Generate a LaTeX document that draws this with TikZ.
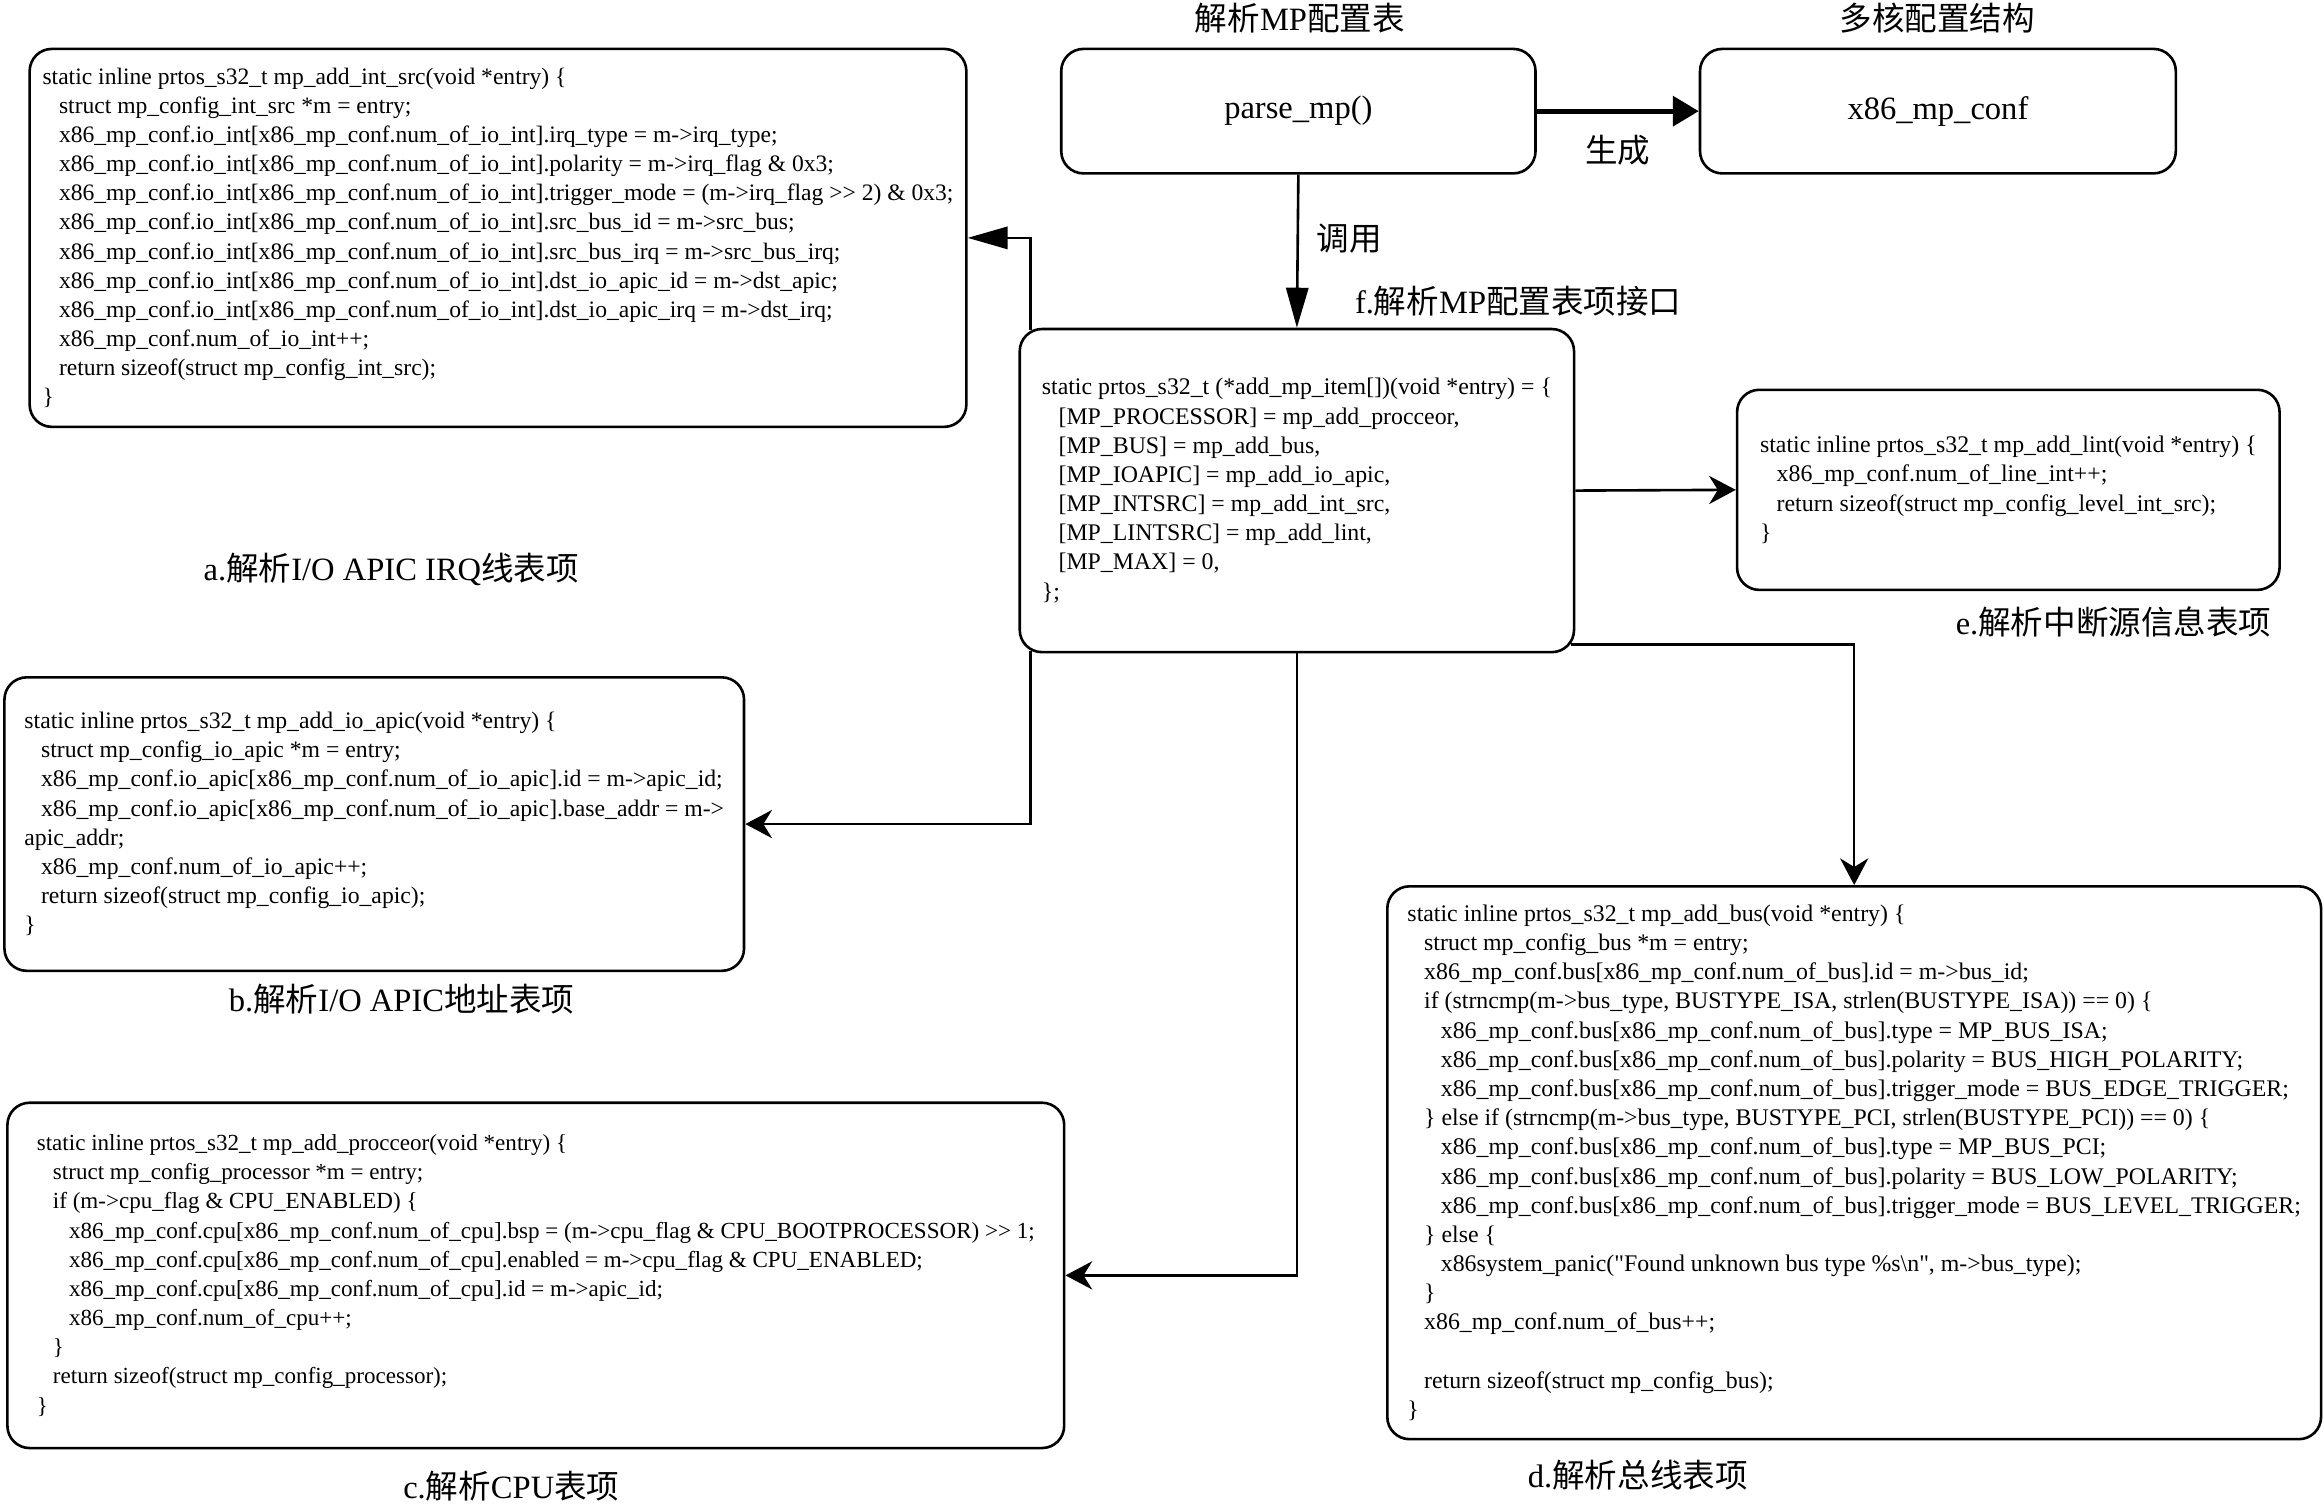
\documentclass[tikz,border=0pt]{standalone}
\usepackage{fontspec}
\setmainfont{Liberation Serif}
\newfontfamily\cjk{Noto Sans CJK SC}
\newfontfamily\codefont[Ligatures=TeXOff]{Liberation Serif}
\usetikzlibrary{arrows.meta}
\tikzset{>={Stealth[length=0.36cm,width=0.38cm]}}
\newcommand{\ind}{\hspace*{0.7em}}
\begin{document}
\catcode`\_=12
\begin{tikzpicture}[
    box/.style={draw, rounded corners=0.3cm, line width=1pt},
    code/.style={box, align=left, font=\codefont\fontsize{9.15}{11.2}\selectfont},
    lbl/.style={font=\fontsize{12.5}{14}\selectfont},
    link/.style={->, line width=1pt},
    longtip/.style={-{Triangle[length=0.54cm,width=0.3cm]}}]
    \useasboundingbox (0,0) rectangle (31.36,-20.3);
    % top row
    \node[box, lbl, minimum width=6.4cm, minimum height=1.68cm] (parse) at (17.52,-1.5) {parse_mp()};
    \node[box, lbl, minimum width=6.42cm, minimum height=1.68cm] (conf) at (26.15,-1.5) {x86_mp_conf};
    \node[lbl] (parsetitle) at (17.54,-0.24) {{\cjk 解析}MP{\cjk 配置表}};
    \node[lbl] (conftitle) at (26.14,-0.24) {{\cjk 多核配置结构}};
    % f
    \node[code, minimum width=7.48cm, minimum height=4.36cm] (f) at (17.5,-6.62) {static prtos_s32_t (*add_mp_item[])(void *entry) = \{\\
\ind[MP_PROCESSOR] = mp_add_procceor,\\
\ind[MP_BUS] = mp_add_bus,\\
\ind[MP_IOAPIC] = mp_add_io_apic,\\
\ind[MP_INTSRC] = mp_add_int_src,\\
\ind[MP_LINTSRC] = mp_add_lint,\\
\ind[MP_MAX] = 0,\\
\};};
    \node[lbl, anchor=west] (flbl) at (18.16,-4.06) {f.{\cjk 解析}MP{\cjk 配置表项接口}};
    % a
    \node[code, font=\codefont\fontsize{9.05}{11.2}\selectfont, minimum width=12.64cm, minimum height=5.1cm] (a) at (6.72,-3.21) {static inline prtos_s32_t mp_add_int_src(void *entry) \{\\
\ind struct mp_config_int_src *m = entry;\\
\ind x86_mp_conf.io_int[x86_mp_conf.num_of_io_int].irq_type = m->irq_type;\\
\ind x86_mp_conf.io_int[x86_mp_conf.num_of_io_int].polarity = m->irq_flag \& 0x3;\\
\ind x86_mp_conf.io_int[x86_mp_conf.num_of_io_int].trigger_mode = (m->irq_flag >> 2) \& 0x3;\\
\ind x86_mp_conf.io_int[x86_mp_conf.num_of_io_int].src_bus_id = m->src_bus;\\
\ind x86_mp_conf.io_int[x86_mp_conf.num_of_io_int].src_bus_irq = m->src_bus_irq;\\
\ind x86_mp_conf.io_int[x86_mp_conf.num_of_io_int].dst_io_apic_id = m->dst_apic;\\
\ind x86_mp_conf.io_int[x86_mp_conf.num_of_io_int].dst_io_apic_irq = m->dst_irq;\\
\ind x86_mp_conf.num_of_io_int++;\\
\ind return sizeof(struct mp_config_int_src);\\
\}};
    \node[lbl] (albl) at (5.28,-7.68) {a.{\cjk 解析}I/O APIC IRQ{\cjk 线表项}};
    % e
    \node[code, minimum width=7.32cm, minimum height=2.7cm] (e) at (27.1,-6.61) {static inline prtos_s32_t mp_add_lint(void *entry) \{\\
\ind x86_mp_conf.num_of_line_int++;\\
\ind return sizeof(struct mp_config_level_int_src);\\
\}};
    \node[lbl] (elbl) at (28.52,-8.4) {e.{\cjk 解析中断源信息表项}};
    % b
    \node[code, font=\codefont\fontsize{9.1}{11.2}\selectfont, minimum width=9.98cm, minimum height=3.96cm] (b) at (5.05,-11.12) {static inline prtos_s32_t mp_add_io_apic(void *entry) \{\\
\ind struct mp_config_io_apic *m = entry;\\
\ind x86_mp_conf.io_apic[x86_mp_conf.num_of_io_apic].id = m->apic_id;\\
\ind x86_mp_conf.io_apic[x86_mp_conf.num_of_io_apic].base_addr = m->\\
apic_addr;\\
\ind x86_mp_conf.num_of_io_apic++;\\
\ind return sizeof(struct mp_config_io_apic);\\
\}};
    \node[lbl] (blbl) at (5.42,-13.48) {b.{\cjk 解析}I/O APIC{\cjk 地址表项}};
    % c
    \node[code, font=\codefont\fontsize{8.85}{11.2}\selectfont, minimum width=14.26cm, minimum height=4.66cm] (c) at (7.23,-17.21) {static inline prtos_s32_t mp_add_procceor(void *entry) \{\\
\ind struct mp_config_processor *m = entry;\\
\ind if (m->cpu_flag \& CPU_ENABLED) \{\\
\ind\ind x86_mp_conf.cpu[x86_mp_conf.num_of_cpu].bsp = (m->cpu_flag \& CPU_BOOTPROCESSOR) >> 1;\\
\ind\ind x86_mp_conf.cpu[x86_mp_conf.num_of_cpu].enabled = m->cpu_flag \& CPU_ENABLED;\\
\ind\ind x86_mp_conf.cpu[x86_mp_conf.num_of_cpu].id = m->apic_id;\\
\ind\ind x86_mp_conf.num_of_cpu++;\\
\ind\}\\
\ind return sizeof(struct mp_config_processor);\\
\}};
    \node[lbl] (clbl) at (6.9,-20.06) {c.{\cjk 解析}CPU{\cjk 表项}};
    % d
    \node[code, minimum width=12.6cm, minimum height=7.46cm] (d) at (25.02,-15.69) {static inline prtos_s32_t mp_add_bus(void *entry) \{\\
\ind struct mp_config_bus *m = entry;\\
\ind x86_mp_conf.bus[x86_mp_conf.num_of_bus].id = m->bus_id;\\
\ind if (strncmp(m->bus_type, BUSTYPE_ISA, strlen(BUSTYPE_ISA)) == 0) \{\\
\ind\ind x86_mp_conf.bus[x86_mp_conf.num_of_bus].type = MP_BUS_ISA;\\
\ind\ind x86_mp_conf.bus[x86_mp_conf.num_of_bus].polarity = BUS_HIGH_POLARITY;\\
\ind\ind x86_mp_conf.bus[x86_mp_conf.num_of_bus].trigger_mode = BUS_EDGE_TRIGGER;\\
\ind\} else if (strncmp(m->bus_type, BUSTYPE_PCI, strlen(BUSTYPE_PCI)) == 0) \{\\
\ind\ind x86_mp_conf.bus[x86_mp_conf.num_of_bus].type = MP_BUS_PCI;\\
\ind\ind x86_mp_conf.bus[x86_mp_conf.num_of_bus].polarity = BUS_LOW_POLARITY;\\
\ind\ind x86_mp_conf.bus[x86_mp_conf.num_of_bus].trigger_mode = BUS_LEVEL_TRIGGER;\\
\ind\} else \{\\
\ind\ind x86system_panic("Found unknown bus type \%s\textbackslash n", m->bus_type);\\
\ind\}\\
\ind x86_mp_conf.num_of_bus++;\\
\mbox{}\\
\ind return sizeof(struct mp_config_bus);\\
\}};
    \node[lbl] (dlbl) at (22.1,-19.9) {d.{\cjk 解析总线表项}};
    % connectors
    \draw[link, line width=1.9pt, -{Triangle[length=0.35cm,width=0.4cm]}] (parse.east) -- (conf.west) node[midway, below=0.18cm, lbl] (gen) {{\cjk 生成}};
    \draw[link, longtip] (parse.south) -- (f.north) node[pos=0.42, right=0.12cm, lbl] (call) {{\cjk 调用}};
    \draw[link, longtip] ([xshift=0.16cm,yshift=-0.035cm]f.north west) |- (a.east);
    \draw[link] ([xshift=0.16cm,yshift=0.035cm]f.south west) |- (b.east);
    \draw[link] (f.south) |- (c.east);
    \draw[link] ([xshift=-0.06cm,yshift=0.12cm]f.south east) -| (d.north);
    \draw[link] (f.east) -- (e.west);
\end{tikzpicture}
\end{document}
